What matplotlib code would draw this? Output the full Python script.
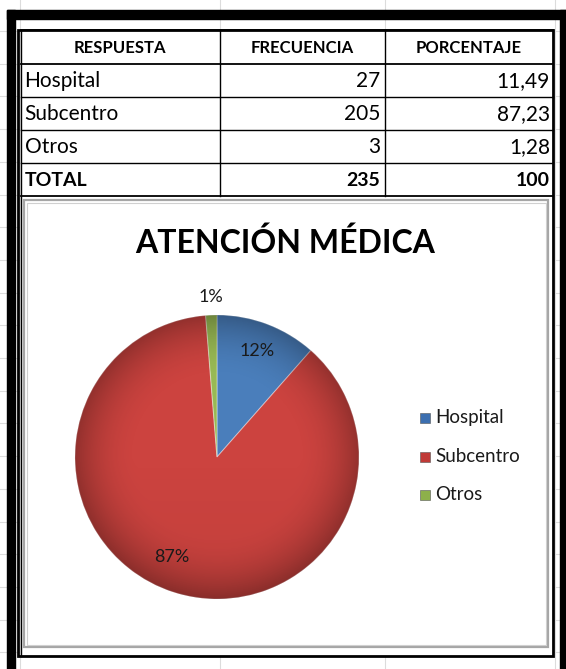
import matplotlib
matplotlib.use('Agg')
import matplotlib.pyplot as plt
import numpy as np
from matplotlib.patches import Rectangle, Circle

# ---------------- data ----------------
headers = ["RESPUESTA", "FRECUENCIA", "PORCENTAJE"]
categorias = ["Hospital", "Subcentro", "Otros"]
frecuencias = [27, 205, 3]
porcentajes = ["11,49", "87,23", "1,28"]
total_row = ["TOTAL", "235", "100"]
titulo = "ATENCIÓN MÉDICA"
etiquetas = ["12%", "87%", "1%"]
colores = ["#4A7EBB", "#CC433F", "#98B954"]
legend_colores = ["#3C6FB0", "#C03A37", "#8DB04A"]

W, H = 566, 669
FONT = ['Lato', 'DejaVu Sans']
plt.rcParams['font.family'] = FONT

fig = plt.figure(figsize=(W / 100, H / 100), dpi=100)
bg = fig.add_axes([0, 0, 1, 1])
bg.set_xlim(0, W)
bg.set_ylim(H, 0)
bg.axis('off')

# spreadsheet gridlines
grid_c = '#DCDCDC'
for x in [20, 220, 385, 555]:
    bg.plot([x, x], [0, H], color=grid_c, lw=0.8, zorder=0)
for y in np.arange(31, H, 32.7):
    bg.plot([0, W], [y, y], color=grid_c, lw=0.8, zorder=0)

# thick outer frame
bg.add_patch(Rectangle((7, 10), W - 7, 9, color='black', zorder=5))
bg.add_patch(Rectangle((7, 10), 8, H - 10, color='black', zorder=5))
bg.add_patch(Rectangle((560, 10), 6, H - 10, color='black', zorder=5))

# inner frame (double line on the left)
bg.add_patch(Rectangle((18, 30), 553 - 18, 656 - 30, fill=False, ec='black', lw=2.0, zorder=4))
bg.plot([20.5, 20.5], [30, 656], color='black', lw=1.0, zorder=4)
bg.add_patch(Rectangle((20.5, 30), 553 - 20.5, 656 - 30, fc='white', ec='none', zorder=1))

# table
col_x = [20.5, 220, 385, 553]
row_y = [30, 63.5, 96.5, 129.5, 162.5, 196]
for y in row_y:
    bg.plot([col_x[0], col_x[-1]], [y, y], color='black', lw=1.3 if y in (30, 63.5, 196) else 1.0, zorder=4)
for x in col_x[1:-1]:
    bg.plot([x, x], [row_y[0], row_y[-1]], color='black', lw=1.0, zorder=4)

# header
for i, h in enumerate(headers):
    cx = (col_x[i] + col_x[i + 1]) / 2
    bg.text(cx, (row_y[0] + row_y[1]) / 2 + 1, h, ha='center', va='center',
            fontsize=12, fontweight='bold', color='black', zorder=6)

# body rows
FS = 15
for r, (cat, fr, pc) in enumerate(zip(categorias, frecuencias, porcentajes)):
    yc = (row_y[r + 1] + row_y[r + 2]) / 2 + 1
    bg.text(col_x[0] + 4, yc, cat, ha='left', va='center', fontsize=FS, color='black', zorder=6)
    bg.text(col_x[2] - 5, yc, str(fr), ha='right', va='center', fontsize=FS, color='black', zorder=6)
    bg.text(col_x[3] - 3, yc, pc, ha='right', va='center', fontsize=FS, color='black', zorder=6)

yc = (row_y[4] + row_y[5]) / 2 + 1
bg.text(col_x[0] + 4, yc, total_row[0], ha='left', va='center', fontsize=14, fontweight='bold', zorder=6)
bg.text(col_x[2] - 5, yc, total_row[1], ha='right', va='center', fontsize=14, fontweight='bold', zorder=6)
bg.text(col_x[3] - 3, yc, total_row[2], ha='right', va='center', fontsize=14, fontweight='bold', zorder=6)

# chart area
bg.add_patch(Rectangle((24, 200), 548 - 24, 647 - 200, fc='white', ec='#A6A6A6', lw=1.6, zorder=3))
bg.add_patch(Rectangle((26.5, 202.5), 548 - 29, 647 - 205, fill=False, ec='#D0D0D0', lw=0.8, zorder=3))

bg.text(285, 243, titulo, ha='center', va='center', fontsize=23, fontweight='bold', color='black', zorder=6)

# pie
cx, cy, R = 217, 457, 142
pax = fig.add_axes([(cx - R) / W, (H - cy - R) / H, 2 * R / W, 2 * R / H])
pax.set_zorder(10)
wedges, _ = pax.pie(frecuencias, colors=colores, startangle=90, counterclock=False,
                    radius=1.0, wedgeprops=dict(edgecolor=(1, 1, 1, 0.35), linewidth=0.8))
pax.set_aspect('equal')
pax.axis('off')

# radial shading (darker toward the rim)
n = 400
xx, yy = np.meshgrid(np.linspace(-1, 1, n), np.linspace(-1, 1, n))
rr = np.sqrt(xx ** 2 + yy ** 2)
shade = np.zeros((n, n, 4))
alpha = np.clip((rr - 0.55) / 0.45, 0, 1) ** 2 * 0.28
alpha += np.clip(-yy, 0, 1) * 0.05
shade[..., 3] = alpha
img = pax.imshow(shade, extent=(-1, 1, -1, 1), origin='lower', zorder=5)
img.set_clip_path(Circle((0, 0), 1.0, transform=pax.transData))
pax.set_xlim(-1, 1)
pax.set_ylim(-1, 1)

# percentage labels
dists = [0.8, 0.77, 1.13]
shifts = [0, -6, 0]
for w, lab, d, s in zip(wedges, etiquetas, dists, shifts):
    ang = np.deg2rad((w.theta1 + w.theta2) / 2 + s)
    pax.text(d * np.cos(ang), d * np.sin(ang), lab, ha='center', va='center',
             fontsize=13, color='#1A1A1A', zorder=8, clip_on=False)

# legend
leg_x, leg_y0, leg_dy = 420, 418, 38.5
for i, (cat, c) in enumerate(zip(categorias, legend_colores)):
    y = leg_y0 + i * leg_dy
    bg.add_patch(Rectangle((leg_x, y - 5), 10, 10, fc=c, ec='#555555', lw=0.4, zorder=6))
    bg.text(leg_x + 15, y, cat, ha='left', va='center', fontsize=13.5, color='#1A1A1A', zorder=6)

fig.savefig('out.png', dpi=100)
